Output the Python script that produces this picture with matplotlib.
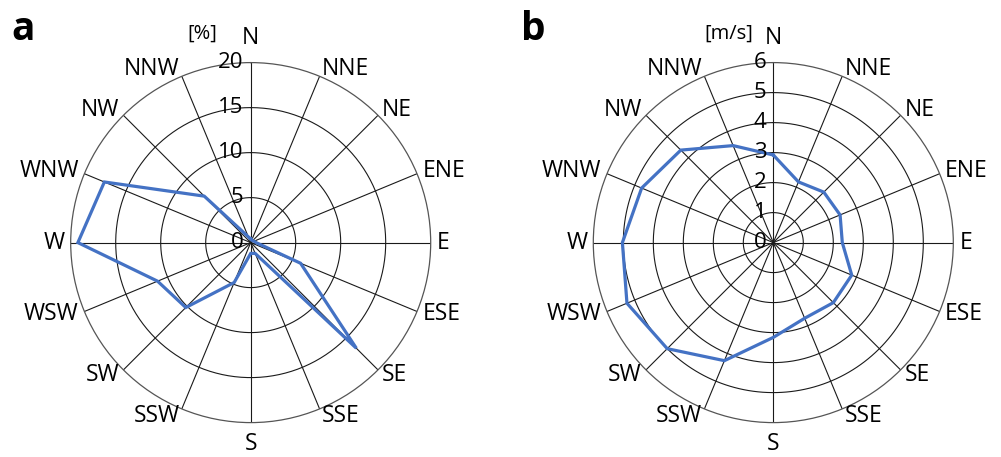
import numpy as np
import matplotlib
matplotlib.use("Agg")
import matplotlib.pyplot as plt

plt.rcParams['font.family'] = ['Open Sans', 'DejaVu Sans']

directions = ["N", "NNE", "NE", "ENE", "E", "ESE", "SE", "SSE",
              "S", "SSW", "SW", "WSW", "W", "WNW", "NW", "NNW"]
freq_pct = [0.4, 0.3, 0.3, 0.4, 0.6, 6.0, 16.6, 1.3,
            1.2, 4.8, 10.2, 11.2, 19.2, 17.6, 7.3, 0.7]
speed_ms = [2.92, 2.19, 2.38, 2.41, 2.30, 2.83, 2.83, 2.73,
            3.16, 4.26, 5.00, 5.28, 5.03, 4.75, 4.36, 3.50]
ticks_a = [0, 5, 10, 15, 20]
ticks_b = [0, 1, 2, 3, 4, 5, 6]

W, H = 1001, 457
fig = plt.figure(figsize=(W / 100, H / 100), dpi=100)

BLUE = "#4472C4"
GRID = "#1a1a1a"


def radar(center_x, values, ticks, unit, unit_xy, letter, letter_xy):
    cy = 242.6
    R = 180.0
    ax = fig.add_axes([(center_x - R) / W, (H - cy - R) / H, 2 * R / W, 2 * R / H],
                      projection="polar")
    ax.set_theta_zero_location("N")
    ax.set_theta_direction(-1)
    n = len(directions)
    theta = np.arange(n) * 2 * np.pi / n
    rmax = ticks[-1]
    ax.set_ylim(0, rmax)
    ax.set_yticks(ticks[1:])
    ax.set_yticklabels([])
    ax.set_xticks(theta)
    ax.set_xticklabels([])
    ax.grid(False)
    # circles
    tt = np.linspace(0, 2 * np.pi, 400)
    for t in ticks[1:-1]:
        ax.plot(tt, np.full_like(tt, t), color=GRID, lw=0.8, zorder=1)
    ax.spines["polar"].set_color("#555555")
    ax.spines["polar"].set_linewidth(0.9)
    # spokes
    for th in theta:
        ax.plot([th, th], [0, rmax], color=GRID, lw=0.8, zorder=1)
    # data polygon
    th_c = np.append(theta, theta[0])
    v_c = np.append(values, values[0])
    ax.plot(th_c, v_c, color=BLUE, lw=2.3, zorder=3, solid_joinstyle="miter")
    # radial tick labels
    for t in ticks:
        ax.annotate(str(t), xy=(0, t), xytext=(-7, 0), textcoords="offset pixels",
                    ha="right", va="center", fontsize=16, color="black",
                    annotation_clip=False)
    # direction labels
    for th, lab in zip(theta, directions):
        s, c = np.sin(th), np.cos(th)
        if abs(s) < 1e-6:
            ha = "center"
            dx = 0
            if c > 0:
                va, dy = "bottom", 13
            else:
                va, dy = "baseline", -27
        else:
            ha = "left" if s > 0 else "right"
            va = "center"
            dx = 6 * s
            dy = 7.5 * c
        ax.annotate(lab, xy=(th, rmax), xytext=(dx, dy), textcoords="offset pixels",
                    ha=ha, va=va, fontsize=16.5, color="black", annotation_clip=False)
    fig.text(unit_xy[0] / W, 1 - unit_xy[1] / H, unit, ha="center", va="center",
             fontsize=14.5)
    fig.text(letter_xy[0] / W, 1 - letter_xy[1] / H, letter, ha="center", va="center",
             fontsize=28, fontweight="bold")
    return ax


radar(250.7, freq_pct, ticks_a, "[%]", (202, 34), "a", (23, 30))
radar(773.3, speed_ms, ticks_b, "[m/s]", (729, 34), "b", (533, 30))

fig.savefig("out.png", dpi=100)
